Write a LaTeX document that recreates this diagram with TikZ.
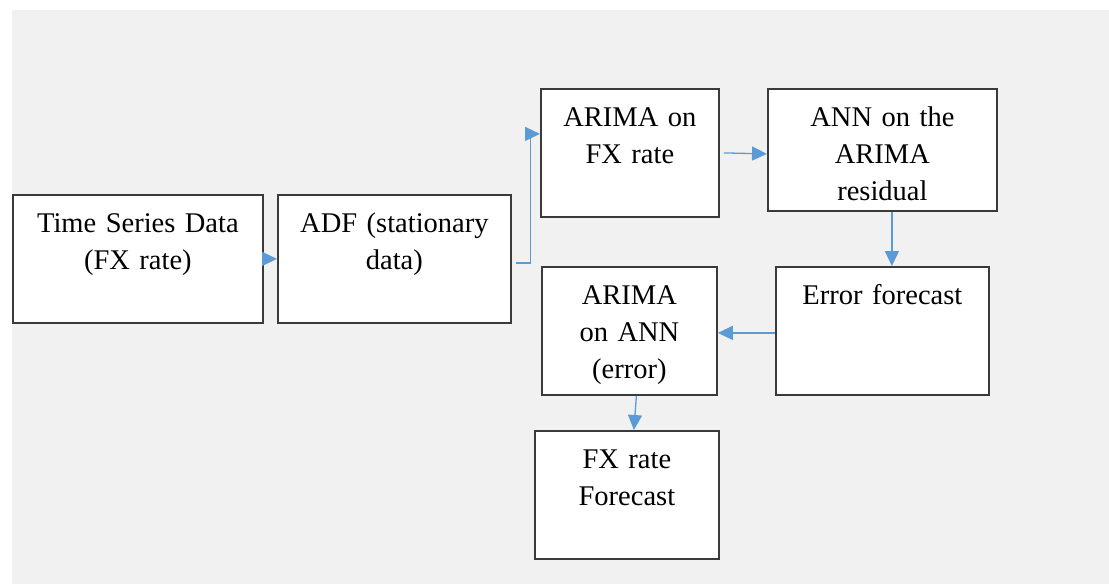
\documentclass[tikz,border=0pt]{standalone}
\usepackage{fontspec}
\setmainfont{Liberation Serif}
\usetikzlibrary{arrows.meta,positioning}
\definecolor{bggray}{HTML}{F1F1F1}
\definecolor{boxline}{HTML}{3A3A3A}
\definecolor{flowblue}{HTML}{5B9BD5}
\tikzset{
  stagebox/.style={draw=boxline, line width=1.8pt, fill=white, align=center, inner sep=0pt,
    anchor=north west, text height=38pt, font=\fontsize{28.5}{37}\selectfont},
  flow/.style={draw=flowblue, line width=1.3pt, -{Triangle[length=15pt,width=14pt]}}
}

\begin{document}
\begin{tikzpicture}[x=1pt, y=-1pt]
        % page and grey panel
        \useasboundingbox (0,0) rectangle (1109,584);
        \fill[bggray] (12,10) rectangle (1109,584);

        % boxes, placed by their top left corners
        \node[stagebox, text width=250pt, text depth=90pt] (series) at (12,194) {Time Series Data\\(FX rate)};

        \node[stagebox, text width=233pt, text depth=90pt] (adf) at (277,194) {ADF (stationary\\data)};

        \node[stagebox, text width=178pt, text depth=90pt] (arimafx) at (540,88) {ARIMA on\\FX rate};

        \node[stagebox, text width=229pt, text depth=84pt] (ann) at (767,88) {ANN on the\\ARIMA\\residual};

        \node[stagebox, text width=213pt, text depth=90pt] (errfc) at (775,266) {Error forecast};

        \node[stagebox, text width=175pt, text depth=90pt] (arimaann) at (541,266) {ARIMA\\on ANN\\(error)};

        \node[stagebox, text width=184pt, text depth=90pt] (fxfc) at (534,430) {FX rate\\Forecast};

        % connectors
        \draw[flow] (series.east) -- (adf.west);
        \draw[flow] ([xshift=4pt,yshift=-4pt]adf.east) -- ++(15,0) |- ([yshift=19pt]arimafx.west);
        \draw[flow] ([xshift=4pt]arimafx.east) -- ([yshift=-4pt]ann.west);
        \draw[flow] ([xshift=9.5pt]ann.south) -- ([xshift=9.5pt]ann.south |- errfc.north);
        \draw[flow] ([yshift=-2pt]errfc.west) -- ([yshift=-2pt]arimaann.east);
        \draw[flow] ([xshift=7pt]arimaann.south) -- ([xshift=7pt]fxfc.north);
\end{tikzpicture}
\end{document}
